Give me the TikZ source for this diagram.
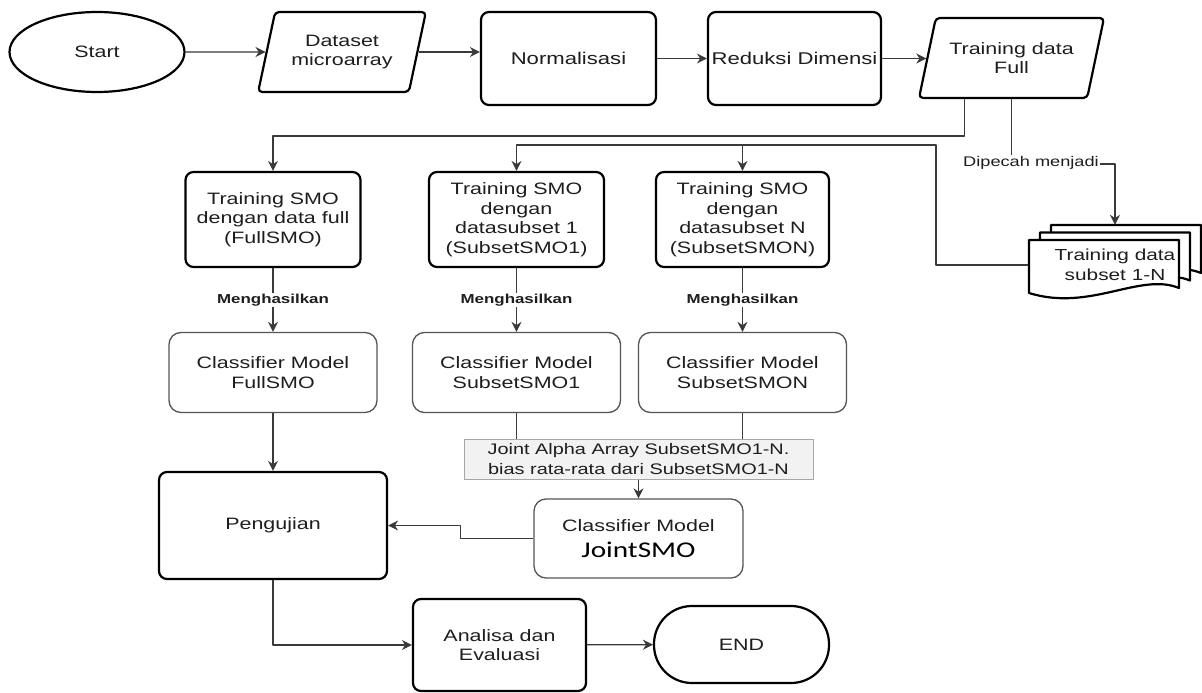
\documentclass[tikz,border=0pt]{standalone}
\usepackage{fontspec}
\setmainfont[FakeStretch=1.3]{Liberation Sans}
\newfontfamily\calibrifont[FakeStretch=1.3]{Carlito}
\definecolor{linegray}{HTML}{3A3A3A}
\definecolor{boxgray}{HTML}{555555}
\definecolor{notefill}{HTML}{F2F2F2}
\definecolor{noteline}{HTML}{A6A6A6}
\definecolor{txtgray}{HTML}{1E1E1E}
\usetikzlibrary{shapes.geometric,arrows.meta,calc}

\begin{document}
\begin{tikzpicture}[x=1pt,y=-1pt,line join=round,
  every node/.style={text=txtgray, align=center, font=\fontsize{16.5}{19.5}\selectfont},
  proc/.style={draw=black, line width=2.2pt, fill=white, rounded corners=8pt, inner sep=2pt},
  model/.style={draw=boxgray, line width=1.3pt, fill=white, rounded corners=12pt, minimum width=208pt, minimum height=80pt},
  io/.style={draw=black, line width=2.2pt, fill=white, trapezium, rounded corners=4pt, trapezium stretches=true, minimum height=80pt, inner sep=0pt},
  conn/.style={draw=linegray, line width=1.3pt, -{Stealth[length=10pt,width=10pt]}},
  wire/.style={draw=linegray, line width=1.3pt},
  lbl/.style={fill=white, inner sep=1pt, font=\bfseries\fontsize{13}{15}\selectfont}]
% Canvas
\fill[white] (0,0) rectangle (1202,693);
\useasboundingbox (0,0) rectangle (1202,693);

% Top row
\node[ellipse, draw=black, line width=2.2pt, fill=white, minimum width=175pt, minimum height=80pt] (start) at (97,52) {Start};
\node[io, trapezium left angle=69.4, trapezium right angle=110.6, minimum width=168pt] (data) at (342,52) {Dataset\\microarray};
\node[proc, minimum width=175pt, minimum height=93pt, font=\fontsize{17}{20}\selectfont] (norm) at (568.5,58.5) {Normalisasi};
\node[proc, minimum width=173pt, minimum height=93pt, font=\fontsize{17}{20}\selectfont] (redu) at (794.5,58.5) {Reduksi Dimensi};
\node[io, trapezium left angle=66.4, trapezium right angle=113.6, minimum width=185pt] (full) at (1011.5,58) {Training data\\Full};

% Subset documents
\foreach \k in {2,1,0} {
  \draw[line width=2.2pt, fill=white, shift={({11*\k},{-7.5*\k})}] (1029,240) -- (1179,240) -- (1179,288)
    .. controls (1140,272) and (1090,312) .. (1029,293) -- cycle;
}
\node[minimum width=173pt, minimum height=80pt, inner sep=0pt, font=\fontsize{16}{19.5}\selectfont] (docs) at (1115,265) {Training data\\subset 1-N};

% Training SMO
\node[proc, minimum width=175pt, minimum height=95pt] (fsmo) at (273,219.5) {Training SMO\\dengan data full\\(FullSMO)};
\node[proc, minimum width=175pt, minimum height=95pt] (s1smo) at (516.5,219.5) {Training SMO\\dengan\\datasubset 1\\(SubsetSMO1)};
\node[proc, minimum width=173pt, minimum height=95pt] (snsmo) at (742.5,219.5) {Training SMO\\dengan\\datasubset N\\(SubsetSMON)};

% Classifier models
\node[model] (cmfull) at (273,372.5) {Classifier Model\\FullSMO};
\node[model] (cms1) at (516.5,372.5) {Classifier Model\\SubsetSMO1};
\node[model] (cmsn) at (742.5,372.5) {Classifier Model\\SubsetSMON};
\node[draw=noteline, fill=notefill, line width=1pt, minimum width=349pt, minimum height=40pt, inner sep=1pt, font=\fontsize{15.3}{20}\selectfont] (jlbl) at (638.5,459) {Joint Alpha Array SubsetSMO1-N.\\bias rata-rata dari SubsetSMO1-N};
\node[model, minimum width=209pt, minimum height=79pt] (cmjoint) at (638.5,538.5) {Classifier Model\\[6pt]{\calibrifont\color{black}\fontsize{22.5}{24}\selectfont JointSMO}};

% Testing and end
\node[proc, minimum width=228pt, minimum height=107pt] (uji) at (273,525.5) {Pengujian};
\node[proc, minimum width=173pt, minimum height=92pt] (anal) at (499.5,645) {Analisa dan\\Evaluasi};
\node[draw=black, line width=2.2pt, fill=white, rounded corners=38pt, minimum width=175pt, minimum height=77pt] (fin) at (741.5,644.5) {END};

% Connectors
\draw[conn] (start) -- (data);
\draw[conn] (data.east) -- (data.east -| norm.west);
\draw[conn] (norm) -- (redu);
\draw[conn] (redu.east) -- (redu.east -| full.west);
\draw[conn] ([xshift=-47pt]full.south) -- ++(0,37) -| (fsmo.north);
\draw[conn] (full.south) -- ++(0,65) -| (docs.north);
\node[font=\fontsize{14}{16}\selectfont, fill=white, inner sep=1pt] (splitlbl) at (1031,163) {Dipecah menjadi};
\coordinate (bus) at (936,145);
\draw[conn] (docs.west) -| (bus) -| (s1smo.north);
\draw[conn] (bus) -| (snsmo.north);
\draw[conn] (fsmo) -- node[lbl] {Menghasilkan} (cmfull);
\draw[conn] (s1smo) -- node[lbl] {Menghasilkan} (cms1);
\draw[conn] (snsmo) -- node[lbl] {Menghasilkan} (cmsn);
\draw[conn] (cmfull) -- (uji);
\draw[wire] (cms1) -- (cms1 |- jlbl.north);
\draw[wire] (cmsn) -- (cmsn |- jlbl.north);
\draw[conn] (jlbl) -- (cmjoint);
\draw[conn] (cmjoint.west) -- ++(-73,0) |- (uji.east);
\draw[conn] (uji.south) |- (anal.west);
\draw[conn] (anal) -- (fin);
\end{tikzpicture}
\end{document}
